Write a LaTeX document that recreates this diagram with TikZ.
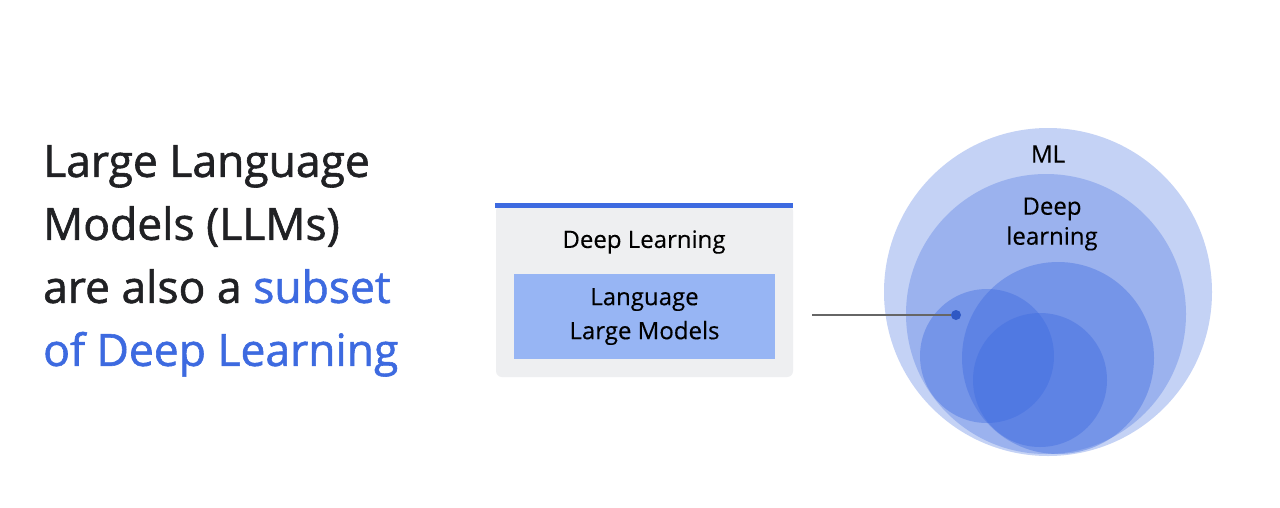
\documentclass[tikz,border=0pt]{standalone}
\usepackage{fontspec}
\setmainfont{Open Sans}
\usetikzlibrary{positioning}
\definecolor{gblue}{HTML}{3D6AE0}
\definecolor{gtext}{HTML}{202124}
\definecolor{boxgray}{HTML}{EEEFF1}
\definecolor{llmblue}{HTML}{97B5F4}
\definecolor{dotblue}{HTML}{2F58C4}
\begin{document}
\begin{tikzpicture}[x=1pt, y=-1pt, font=\color{gtext},
  circ/.style={fill=gblue, fill opacity=0.3, draw=none},
  incirc/.style={fill=gblue, fill opacity=0.4, draw=none}]
  \useasboundingbox[fill=white] (0,0) rectangle (1280,507);
  % headline
  \node[anchor=north west, align=left, inner sep=0pt,
        font=\fontsize{44.4}{63}\selectfont\addfontfeature{FakeBold=1.3}\color{gtext}] (title) at (43,145)
    {Large Language\\Models (LLMs)\\are also a \textcolor{gblue}{subset}\\\textcolor{gblue}{of Deep Learning}};
  % card
  \fill[boxgray, rounded corners=6pt] (496,205) rectangle (793,377);
  \fill[gblue] (495,203) rectangle (793,207.5);
  \node[font=\fontsize{24}{24}\selectfont\addfontfeature{FakeBold=0.3}] (dl) at (644,242) {Deep Learning};
  \node[fill=llmblue, minimum width=261pt, minimum height=85pt, inner sep=0pt,
        align=center, font=\fontsize{24}{34}\selectfont\addfontfeature{FakeBold=0.3}] (llm) at (644.5,316.5)
    {Language\\Large Models};
  % nested circles
  \path[circ] (1048,292) circle[radius=164];
  \path[circ] (1046,314) circle[radius=140];
  \path[incirc] (1058,358) circle[radius=96];
  \path[incirc] (987,356) circle[radius=67];
  \path[incirc] (1040,380) circle[radius=67];
  \node[font=\fontsize{24}{24}\selectfont\addfontfeature{FakeBold=0.3}] (ml) at (1048,154) {ML};
  \node[align=center, font=\fontsize{24}{30}\selectfont\addfontfeature{FakeBold=0.3}] (deep) at (1052,224) {Deep\\learning};
  % pointer
  \node[circle, fill=dotblue, inner sep=0pt, minimum size=10pt] (dot) at (956,315) {};
  \coordinate (tail) at (812,315);
  \draw[black!60, line width=1.2pt] (tail) -- (dot);
\end{tikzpicture}
\end{document}
